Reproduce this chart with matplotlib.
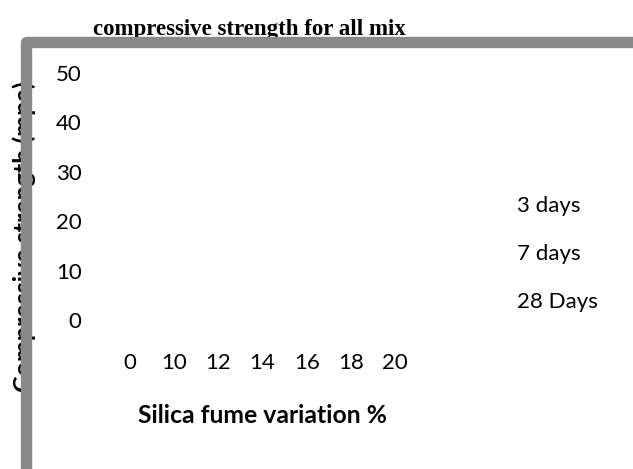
import matplotlib
matplotlib.use("Agg")
import matplotlib.pyplot as plt
from matplotlib.patches import Rectangle

# Silica fume replacement levels (%) used as mix categories
silica_fume = ["0", "10", "12", "14", "16", "18", "20"]
y_ticks = [0, 10, 20, 30, 40, 50]

# Compressive strength series (MPa) per curing age
strength_3_days = []
strength_7_days = []
strength_28_days = []
series_names = ["3 days", "7 days", "28 Days"]

W, H, DPI = 633, 469, 100
fig = plt.figure(figsize=(W / DPI, H / DPI), dpi=DPI)
fig.patch.set_facecolor("white")

def px_box(left, top, right, bottom):
    return [left / W, (H - bottom) / H, (right - left) / W, (bottom - top) / H]

ax = fig.add_axes(px_box(108, 73, 417, 320))
ax.set_facecolor("none")

positions = list(range(len(silica_fume)))
for vals, name in zip([strength_3_days, strength_7_days, strength_28_days], series_names):
    ax.plot(positions[:len(vals)], vals, label=name)

tick_font = dict(family="Lato", size=16)
ax.set_xlim(-0.5, len(silica_fume) - 0.5)
ax.set_ylim(0, 50)
ax.set_xticks(positions)
ax.set_xticklabels(silica_fume, **tick_font)
ax.set_yticks(y_ticks)
ax.set_yticklabels([str(v) for v in y_ticks], **tick_font)
ax.tick_params(axis="both", length=0, colors="black")
ax.tick_params(axis="y", pad=19)
ax.tick_params(axis="x", pad=24)
for s in ax.spines.values():
    s.set_visible(False)

ax.set_xlabel("Silica fume variation %", family="Lato", size=17.8, weight="bold")
ax.xaxis.set_label_coords(0.5, -0.385)
ax.xaxis.label.set_va("center")

ax.set_ylabel("Compressive strength (mpa)", family="Lato", size=18, weight="bold")
ax.yaxis.set_label_coords(-0.272, 0.336)
ax.yaxis.label.set_va("center")

leg = ax.legend(loc="center left", bbox_to_anchor=(516.7 / W, (H - 254) / H),
                bbox_transform=fig.transFigure, frameon=False,
                handlelength=0, handletextpad=0, borderaxespad=0, borderpad=0,
                labelspacing=1.28, prop=dict(family="Lato", size=16))
for h in leg.legend_handles:
    h.set_visible(False)

fig.text(249.5 / W, (H - 29) / H, "compressive strength for all mix",
         family="Liberation Serif", weight="bold", size=16.5,
         ha="center", va="center")

# Chart-area border drawn over the axis title
frame = Rectangle((26 / W, (H - 520) / H), 700 / W, (520 - 42.5) / H,
                  transform=fig.transFigure, fill=False, edgecolor="#898989",
                  linewidth=8.2, joinstyle="round", zorder=10, clip_on=False)
fig.patches.append(frame)

fig.savefig("out.png", dpi=DPI)
